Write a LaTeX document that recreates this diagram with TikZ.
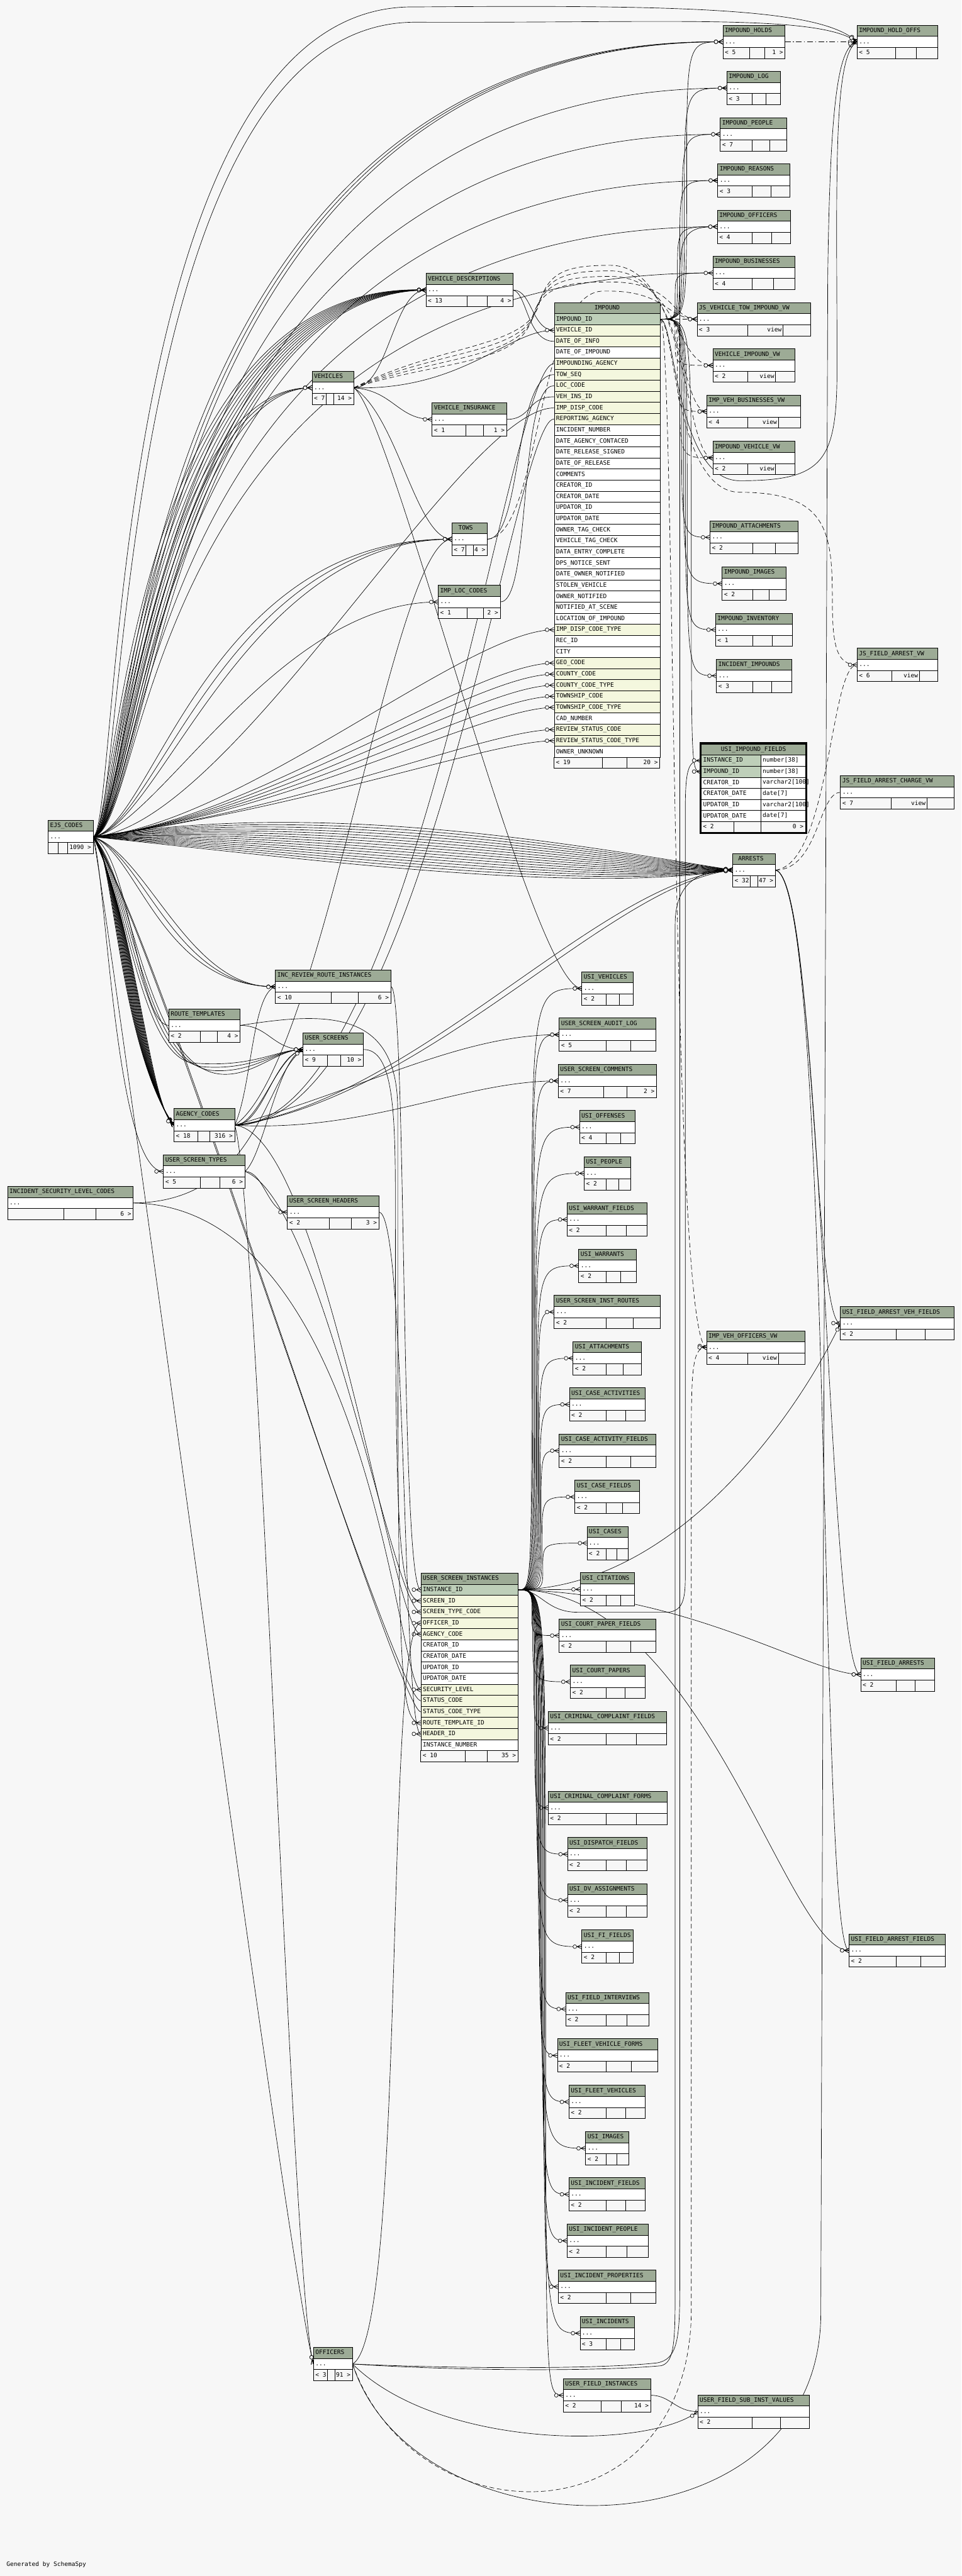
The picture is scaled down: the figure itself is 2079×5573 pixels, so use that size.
\documentclass[tikz,border=0pt]{standalone}
\usepackage{fontspec}
\usetikzlibrary{fit,calc,decorations.markings}
\newfontfamily\tbmono{DejaVu Sans Mono}
\newcommand\tbfnt{\fontsize{13}{15}\selectfont\tbmono}
\definecolor{bgc}{RGB}{247,247,247}
\definecolor{hdr}{RGB}{157,171,150}
\definecolor{cp}{RGB}{190,207,185}
\definecolor{cf}{RGB}{244,247,222}
\definecolor{cn}{RGB}{255,255,255}
\pgfdeclarelayer{back}
\pgfdeclarelayer{edges}
\pgfsetlayers{back,edges,main}
\tikzset{
 tt/.style={font=\tbfnt, inner sep=0pt, text=black, text height=9pt, text depth=2pt},
 tline/.style={draw=black, line width=1pt},
 crow/.style={postaction={decorate, decoration={markings, mark=at position 0.99999 with {\draw[solid, line width=0.9pt] (-10pt,0pt) -- (0pt,5pt) (-10pt,0pt) -- (0pt,0pt) (-10pt,0pt) -- (0pt,-5pt); \filldraw[solid, line width=0.9pt, fill=bgc] (-15pt,0pt) circle (4pt);}}}},
 fk/.style={draw=black, line width=0.9pt, crow},
 vfk/.style={fk, dash pattern=on 10pt off 6pt},
 dd/.style={fk, dash pattern=on 12pt off 5pt on 2pt off 5pt},
 rowc/.style={draw=black, line width=1pt, minimum height=24pt, inner ysep=0pt, inner xsep=4pt, text width=#1, align=left, anchor=north west, font=\tbfnt, text height=9pt, text depth=2pt},
 hcell/.style={draw=black, line width=1pt, fill=hdr, minimum height=24pt, inner sep=0pt, text height=9pt, text depth=2pt, anchor=north west, font=\tbfnt},
}
% table: name, x1, y1, x2, split1, split2, title, footer-left, footer-right
\newcommand\tb[9]{%
 \node[fit={(#2,#3) (#4,{#3+72})}, inner sep=0pt, name=#1] {};
 \filldraw[tline, fill=hdr] (#2,#3) rectangle (#4,{#3+24});
 \filldraw[tline, fill=white] (#2,{#3+24}) rectangle (#4,{#3+48});
 \filldraw[tline, fill=bgc] (#2,{#3+48}) rectangle (#4,{#3+72});
 \draw[tline] (#5,{#3+48}) -- (#5,{#3+72}) (#6,{#3+48}) -- (#6,{#3+72});
 \node[tt, anchor=west, name=#1-t] at ({#2+4},{#3+12}) {#7};
 \node[tt, anchor=west, name=#1-r] at ({#2+4},{#3+36}) {...};
 \node[tt, anchor=west, name=#1-fl] at ({#2+4},{#3+60}) {#8};
 \node[tt, anchor=east, name=#1-fr] at ({#4-4},{#3+60}) {#9};
}
\newcommand\vw[8]{\tb{#1}{#2}{#3}{#4}{#5}{#6}{#7}{#8}{}%
 \node[tt, anchor=east, name=#1-v] at ({#6-3},{#3+60}) {view};}
\begin{document}
\begin{tikzpicture}[x=1pt,y=-1pt]
\begin{pgfonlayer}{back}
\fill[bgc] (0,0) rectangle (2079,5573);
\end{pgfonlayer}
\useasboundingbox (0,0) rectangle (2079,5573);

% ---------- right column ----------
\tb{holds}{1563.5}{54.5}{1697.5}{1621}{1654}{IMPOUND\_HOLDS}{< 5}{1 >}
\tb{holdoffs}{1853.5}{54.5}{2027.5}{1937}{1981.5}{IMPOUND\_HOLD\_OFFS}{< 5}{}
\tb{implog}{1572}{154.5}{1687.5}{1627}{1656.6}{IMPOUND\_LOG}{< 3}{}
\tb{imppeople}{1557.5}{254.5}{1701.5}{1627}{1664.6}{IMPOUND\_PEOPLE}{< 7}{}
\tb{impreasons}{1552}{354.5}{1708.7}{1627}{1667.4}{IMPOUND\_REASONS}{< 3}{}
\tb{impofficers}{1551.5}{454.5}{1709.5}{1627}{1668.6}{IMPOUND\_OFFICERS}{< 4}{}
\tb{impbus}{1541.5}{554.5}{1719.5}{1627}{1672}{IMPOUND\_BUSINESSES}{< 4}{}
\vw{jsvti}{1507.4}{654.4}{1752.4}{1616.5}{1693.5}{JS\_VEHICLE\_TOW\_IMPOUND\_VW}{< 3}
\vw{vivw}{1541.5}{754.6}{1719.5}{1617}{1677.4}{VEHICLE\_IMPOUND\_VW}{< 2}
\vw{ivbvw}{1528.2}{854.3}{1731.6}{1616.5}{1683.5}{IMP\_VEH\_BUSINESSES\_VW}{< 4}
\vw{ivvw}{1541.5}{954.6}{1719.5}{1617}{1677.4}{IMPOUND\_VEHICLE\_VW}{< 2}
\tb{impatt}{1535.4}{1126.4}{1725.6}{1627.3}{1676.6}{IMPOUND\_ATTACHMENTS}{< 2}{}
\tb{impimg}{1561.5}{1226.7}{1699.5}{1627.3}{1663.4}{IMPOUND\_IMAGES}{< 2}{}
\tb{impinv}{1547.5}{1326.4}{1713.5}{1627.3}{1669.4}{IMPOUND\_INVENTORY}{< 1}{}
\tb{incimp}{1549.5}{1426}{1711.5}{1627.3}{1668.6}{INCIDENT\_IMPOUNDS}{< 3}{}
\vw{jsfavw}{1853.5}{1402.3}{2028.4}{1928.5}{1988.3}{JS\_FIELD\_ARREST\_VW}{< 6}
\vw{jsfacvw}{1817.4}{1678.3}{2063.7}{1927.3}{2004.7}{JS\_FIELD\_ARREST\_CHARGE\_VW}{< 7}
\tb{arrests}{1584.4}{1846.3}{1676.6}{1621.7}{1639.3}{\hspace{8pt}ARRESTS}{< 32}{47 >}
\vw{impvehoff}{1528}{2879}{1741}{1616.5}{1683.5}{IMP\_VEH\_OFFICERS\_VW}{< 4}
\tb{usifav}{1817.3}{2826.8}{2063.3}{1937.7}{2000.3}{USI\_FIELD\_ARREST\_VEH\_FIELDS}{< 2}{}
\tb{usifa}{1861.3}{3586.6}{2020.3}{1937.7}{1979.3}{USI\_FIELD\_ARRESTS}{< 2}{}
\tb{usifaf}{1836.3}{4183.7}{2044.7}{1937.7}{1991.3}{USI\_FIELD\_ARREST\_FIELDS}{< 2}{}

% ---------- middle ----------
\tb{vdesc}{921.3}{591.5}{1109.7}{1010.3}{1053.7}{VEHICLE\_DESCRIPTIONS}{< 13}{4 >}
\tb{vehicles}{675}{803}{765}{705}{722}{VEHICLES}{< 7}{14 >}
\tb{vins}{934.3}{871.3}{1095.7}{1006.7}{1045.7}{VEHICLE\_INSURANCE}{< 1}{1 >}
\tb{tows}{977.3}{1130.5}{1053.7}{1006.7}{1023.7}{\hspace{10pt}TOWS}{< 7}{4 >}
\tb{imploc}{947.7}{1266.3}{1081.7}{1010}{1045}{IMP\_LOC\_CODES}{< 1}{2 >}

% IMPOUND
\node[hcell, minimum width=229pt, name=imp-h] at (1198,654) {IMPOUND};
\foreach \nm/\k [count=\i] in {IMPOUND\_ID/p, VEHICLE\_ID/f, DATE\_OF\_INFO/f, DATE\_OF\_IMPOUND/n, IMPOUNDING\_AGENCY/f, TOW\_SEQ/f, LOC\_CODE/f, VEH\_INS\_ID/f, IMP\_DISP\_CODE/f, REPORTING\_AGENCY/f, INCIDENT\_NUMBER/n, DATE\_AGENCY\_CONTACED/n, DATE\_RELEASE\_SIGNED/n, DATE\_OF\_RELEASE/n, COMMENTS/n, CREATOR\_ID/n, CREATOR\_DATE/n, UPDATOR\_ID/n, UPDATOR\_DATE/n, OWNER\_TAG\_CHECK/n, VEHICLE\_TAG\_CHECK/n, DATA\_ENTRY\_COMPLETE/n, DPS\_NOTICE\_SENT/n, DATE\_OWNER\_NOTIFIED/n, STOLEN\_VEHICLE/n, OWNER\_NOTIFIED/n, NOTIFIED\_AT\_SCENE/n, LOCATION\_OF\_IMPOUND/n, IMP\_DISP\_CODE\_TYPE/f, REC\_ID/n, CITY/n, GEO\_CODE/f, COUNTY\_CODE/f, COUNTY\_CODE\_TYPE/f, TOWNSHIP\_CODE/f, TOWNSHIP\_CODE\_TYPE/f, CAD\_NUMBER/n, REVIEW\_STATUS\_CODE/f, REVIEW\_STATUS\_CODE\_TYPE/f, OWNER\_UNKNOWN/n}
  \node[rowc=221pt, fill=c\k, name=imp-\i] at (1198,{654+24*\i}) {\nm};
\filldraw[tline, fill=bgc] (1198,1638) rectangle (1427,1662);
\draw[tline] (1303,1638) -- (1303,1662) (1355,1638) -- (1355,1662);
\node[tt, anchor=west, name=imp-fl] at (1202,1650) {< 19};
\node[tt, anchor=east, name=imp-fr] at (1423,1650) {20 >};
\node[fit={(1198,654) (1427,1662)}, inner sep=0pt, name=impound] {};

% USI_IMPOUND_FIELDS
\node[hcell, minimum width=226pt, name=usiimp-h] at (1516,1609) {USI\_IMPOUND\_FIELDS};
\foreach \nm/\k/\tyy [count=\i] in {INSTANCE\_ID/p/{number[38]}, IMPOUND\_ID/p/{number[38]}, CREATOR\_ID/n/{varchar2[100]}, CREATOR\_DATE/n/{date[7]}, UPDATOR\_ID/n/{varchar2[100]}, UPDATOR\_DATE/n/{date[7]}}{
  \node[rowc=121pt, fill=c\k, name=usiimp-\i] at (1516,{1609+24*\i}) {\nm};
  \node[draw=black, line width=1pt, fill=white, minimum width=97pt, minimum height=24pt, inner sep=0pt, anchor=north west, name=usiimp-\i-c] at (1645,{1609+24*\i}) {};
  \node[tt, anchor=west, name=usiimp-\i-ty] at (1649,{1621+24*\i}) {\tyy};
}
\filldraw[tline, fill=bgc] (1516,1777) rectangle (1742,1801);
\draw[tline] (1587,1777) -- (1587,1801) (1645,1777) -- (1645,1801);
\node[tt, anchor=west, name=usiimp-fl] at (1520,1789) {< 2};
\node[tt, anchor=east, name=usiimp-fr] at (1738,1789) {0 >};
\draw[line width=3pt] (1514.5,1607.5) rectangle (1743.5,1802);
\node[fit={(1514,1607) (1744,1802)}, inner sep=0pt, name=usiimp] {};

% ---------- left ----------
\tb{ejs}{104}{1774.4}{201.3}{125.4}{145.5}{EJS\_CODES}{}{1090 >}
\tb{incrr}{595.6}{2098.5}{845.3}{715.6}{774.7}{INC\_REVIEW\_ROUTE\_INSTANCES}{< 10}{6 >}
\tb{routet}{364.9}{2182.4}{519.4}{432.6}{469.6}{ROUTE\_TEMPLATES}{< 2}{4 >}
\tb{uscreens}{655.3}{2234.5}{785.6}{707.6}{736.3}{USER\_SCREENS}{< 9}{10 >}
\tb{agency}{376.3}{2398.4}{507.4}{428.1}{453.6}{AGENCY\_CODES}{< 18}{316 >}
\tb{ustypes}{353.5}{2498.3}{529.6}{432.6}{475.4}{USER\_SCREEN\_TYPES}{< 5}{6 >}
\tb{islc}{16.5}{2566.6}{288}{137.5}{207.6}{INCIDENT\_SECURITY\_LEVEL\_CODES}{}{6 >}
\tb{usheaders}{621.5}{2586.5}{819.5}{711.6}{759.8}{USER\_SCREEN\_HEADERS}{< 2}{3 >}

% ---------- USI column ----------
\tb{usivehicles}{1258.3}{2102.4}{1369.7}{1310.3}{1339.3}{USI\_VEHICLES}{< 2}{}
\tb{usal}{1209.3}{2202.4}{1418.7}{1310.3}{1363.3}{USER\_SCREEN\_AUDIT\_LOG}{< 5}{}
\tb{uscom}{1207.3}{2302.4}{1419.7}{1305.3}{1355.7}{USER\_SCREEN\_COMMENTS}{< 7}{2 >}
\tb{usioff}{1253.3}{2402.4}{1373.7}{1310.3}{1341.7}{USI\_OFFENSES}{< 4}{}
\tb{usipeople}{1263.3}{2502.4}{1363.7}{1310.3}{1337.7}{USI\_PEOPLE}{< 2}{}
\tb{usiwf}{1226.3}{2602.4}{1399.7}{1310.3}{1354.7}{USI\_WARRANT\_FIELDS}{< 2}{}
\tb{usiwar}{1251.3}{2702.4}{1375.7}{1310.3}{1342.7}{USI\_WARRANTS}{< 2}{}
\tb{usir}{1198.3}{2802.4}{1427.7}{1310.3}{1369.7}{USER\_SCREEN\_INST\_ROUTES}{< 2}{}
\tb{usiatt}{1239.3}{2902.4}{1386.7}{1310.3}{1347.7}{USI\_ATTACHMENTS}{< 2}{}
\tb{usica}{1231.3}{3002.4}{1395.7}{1310.3}{1353.3}{USI\_CASE\_ACTIVITIES}{< 2}{}
\tb{usicaf}{1209.3}{3102.4}{1418.7}{1310.3}{1363.3}{USI\_CASE\_ACTIVITY\_FIELDS}{< 2}{}
\tb{usicf}{1243.3}{3202.4}{1382.7}{1310.3}{1346.7}{USI\_CASE\_FIELDS}{< 2}{}
\tb{usicases}{1269.3}{3302.4}{1358.7}{1310.3}{1334.3}{USI\_CASES}{< 2}{}
\tb{usicit}{1255.3}{3402.4}{1371.7}{1310.3}{1341.7}{USI\_CITATIONS}{< 2}{}
\tb{usicpf}{1209.3}{3502.4}{1418.7}{1310.3}{1363.3}{USI\_COURT\_PAPER\_FIELDS}{< 2}{}
\tb{usicp}{1233.3}{3602.4}{1394.7}{1310.3}{1351.7}{USI\_COURT\_PAPERS}{< 2}{}
\tb{usiccf}{1185.3}{3702.6}{1441.7}{1310.3}{1375.7}{USI\_CRIMINAL\_COMPLAINT\_FIELDS}{< 2}{}
\tb{usiccfo}{1185.3}{3874.9}{1442.7}{1310.3}{1375.7}{USI\_CRIMINAL\_COMPLAINT\_FORMS}{< 2}{}
\tb{usidf}{1227.3}{3975.4}{1399.3}{1310.3}{1354.7}{USI\_DISPATCH\_FIELDS}{< 2}{}
\tb{usidv}{1227.3}{4074.9}{1398.7}{1310.3}{1354.7}{USI\_DV\_ASSIGNMENTS}{< 2}{}
\tb{usifi}{1258.3}{4175.4}{1369.3}{1310.3}{1339.7}{USI\_FI\_FIELDS}{< 2}{}
\tb{usifint}{1223.3}{4310.3}{1402.7}{1310.3}{1355.7}{USI\_FIELD\_INTERVIEWS}{< 2}{}
\tb{usifvf}{1205.3}{4410.8}{1421.7}{1310.3}{1365.7}{USI\_FLEET\_VEHICLE\_FORMS}{< 2}{}
\tb{usifv}{1230.3}{4511.2}{1395.7}{1310.3}{1353.3}{USI\_FLEET\_VEHICLES}{< 2}{}
\tb{usiimg}{1266.3}{4611.7}{1359.7}{1310.3}{1334.3}{USI\_IMAGES}{< 2}{}
\tb{usiif}{1230.3}{4711.2}{1395.7}{1310.3}{1353.3}{USI\_INCIDENT\_FIELDS}{< 2}{}
\tb{usiip}{1226.3}{4811.7}{1401.7}{1310.3}{1355.7}{USI\_INCIDENT\_PEOPLE}{< 2}{}
\tb{usiiprop}{1207.3}{4911.2}{1418.3}{1310.3}{1363.3}{USI\_INCIDENT\_PROPERTIES}{< 2}{}
\tb{usiinc}{1254.3}{5011.7}{1371.7}{1310.3}{1341.7}{USI\_INCIDENTS}{< 3}{}
\tb{officers}{678}{5078.3}{762.2}{707.9}{724.7}{OFFICERS}{< 3}{91 >}
\tb{ufi}{1218.2}{5146}{1407.2}{1299.3}{1342.9}{USER\_FIELD\_INSTANCES}{< 2}{14 >}
\tb{ufsiv}{1509}{5181.3}{1750.7}{1626.8}{1688}{USER\_FIELD\_SUB\_INST\_VALUES}{< 2}{}

% USER_SCREEN_INSTANCES
\node[hcell, text width=202pt, align=left, inner xsep=4pt, name=usi-h] at (910,3403) {USER\_SCREEN\_INSTANCES};
\foreach \nm/\k [count=\i] in {INSTANCE\_ID/p, SCREEN\_ID/f, SCREEN\_TYPE\_CODE/f, OFFICER\_ID/f, AGENCY\_CODE/f, CREATOR\_ID/n, CREATOR\_DATE/n, UPDATOR\_ID/n, UPDATOR\_DATE/n, SECURITY\_LEVEL/f, STATUS\_CODE/f, STATUS\_CODE\_TYPE/f, ROUTE\_TEMPLATE\_ID/f, HEADER\_ID/f, INSTANCE\_NUMBER/n}
  \node[rowc=202pt, fill=c\k, name=usi-\i] at (910,{3403+24*\i}) {\nm};
\filldraw[tline, fill=bgc] (910,3787) rectangle (1120,3811);
\draw[tline] (1006,3787) -- (1006,3811) (1053,3787) -- (1053,3811);
\node[tt, anchor=west, name=usi-fl] at (914,3799) {< 10};
\node[tt, anchor=east, name=usi-fr] at (1116,3799) {35 >};
\node[fit={(910,3403) (1120,3811)}, inner sep=0pt, name=usinst] {};

\node[tt, anchor=west, name=gen] at (14,5548) {Generated by SchemaSpy};

% ================= connectors =================
\begin{pgfonlayer}{edges}
% EJS_CODES
\foreach \k in {-8,...,7}
  \draw[fk] (ejs.east) .. controls (700,{1800+9*\k}) and (1250,{1885+7*\k}) .. (arrests.west);
\foreach \k in {0,1,2}
  \draw[fk] (ejs.east) .. controls ({290+8*\k},1790) and ({250+12*\k},{75+6*\k}) .. (holds.west);
\draw[fk] (ejs.east) .. controls (305,1790) and (280,190) .. (implog.west);
\draw[fk] (ejs.east) .. controls (310,1790) and (285,290) .. (imppeople.west);
\draw[fk] (ejs.east) .. controls (315,1790) and (290,390) .. (impreasons.west);
\draw[fk] (ejs.east) .. controls (320,1790) and (295,490) .. (impofficers.west);
\draw[fk] (ejs.east) .. controls (325,1790) and (300,590) .. (impbus.west);
\draw[fk] (ejs.east) .. controls (260,1790) and (230,0) .. (900,15) .. controls (1500,10) and (1780,20) .. (holdoffs.west);
\draw[fk] (ejs.east) .. controls (275,1790) and (245,45) .. (900,48) .. controls (1450,50) and (1770,30) .. (holdoffs.west);
\foreach \k in {0,...,9}
  \draw[fk] (ejs.east) .. controls ({255+6*\k},1790) and ({270+12*\k},{600+4*\k}) .. (vdesc.west);
\foreach \k in {0,1,2}
  \draw[fk] (ejs.east) .. controls ({270+10*\k},1790) and ({330+20*\k},{830+5*\k}) .. (vehicles.west);
\foreach \k in {0,1,2}
  \draw[fk] (ejs.east) .. controls ({330+8*\k},1790) and ({450+40*\k},{1160+3*\k}) .. (tows.west);
\draw[fk] (ejs.east) .. controls (340,1790) and (600,1302) .. (imploc.west);
\foreach \r/\k in {9/0,29/1,32/2,33/3,34/4,35/5,36/6,38/7,39/8}
  \draw[fk] (ejs.east) .. controls ({500+20*\k},{1790-5*\k}) and ({1000+8*\k},{666+24*\r}) .. (imp-\r.west);
\foreach \k in {0,1,2}
  \draw[fk] (ejs.east) .. controls ({300+10*\k},1850) and ({350+30*\k},{2134+4*\k}) .. (incrr.west);
\draw[fk] (ejs.east) .. controls (280,1850) and (300,2218) .. (routet.west);
\foreach \k in {0,...,3}
  \draw[fk] (ejs.east) .. controls ({270+6*\k},1900) and ({300+5*\k},{2290+8*\k}) .. ({420+20*\k},{2300+8*\k}) .. controls (550,{2310+6*\k}) and (600,2270) .. (uscreens.west);
\foreach \k in {0,...,17}
  \draw[fk] (ejs.east) .. controls ({245+3*\k},{1830+10*\k}) and ({255+4*\k},{2260+8*\k}) .. (agency.west);
\draw[fk] (ejs.east) .. controls (230,1900) and (250,2534) .. (ustypes.west);
\draw[fk] (ejs.east) .. controls (330,2000) and (850,3679) .. (usi-11.west);
\draw[fk] (ejs.east) .. controls (340,2010) and (860,3703) .. (usi-12.west);
\draw[fk] (ejs.east) .. controls (240,2000) and (620,4900) .. (officers.west);

% AGENCY_CODES
\foreach \k in {0,1}
  \draw[fk] (agency.east) .. controls ({560+10*\k},2434) and ({600-10*\k},{2280+5*\k}) .. (uscreens.west);
\draw[fk] (agency.east) .. controls (900,2434) and (1100,786) .. (imp-5.west);
\draw[fk] (agency.east) .. controls (920,2434) and (1110,906) .. (imp-10.west);
\foreach \k in {0,1}
  \draw[fk] (agency.east) .. controls ({900+20*\k},2380) and ({1300+20*\k},{1900+10*\k}) .. (arrests.west);
\draw[fk] (agency.east) .. controls (700,2450) and (850,3535) .. (usi-5.west);
\draw[fk] (agency.east) .. controls (800,2350) and (1000,2238) .. (usal.west);
\draw[fk] (agency.east) .. controls (800,2450) and (1000,2338) .. (uscom.west);
\draw[fk] (agency.east) .. controls (545,2350) and (545,2150) .. (incrr.west);
\draw[fk] (agency.east) .. controls (700,2300) and (850,1166) .. (tows.west);
\draw[fk] (agency.east) .. controls (560,2600) and (630,4950) .. (officers.west);

% VEHICLES and neighbours
\draw[fk] (vehicles.east) .. controls (840,840) and (850,627) .. (vdesc.west);
\draw[fk] (vehicles.east) .. controls (850,845) and (860,907) .. (vins.west);
\draw[fk] (vehicles.east) .. controls (860,900) and (900,1166) .. (tows.west);
\draw[fk] (vehicles.east) .. controls (1000,845) and (1100,714) .. (imp-2.west);
\draw[fk] (vehicles.east) .. controls (850,900) and (1150,2138) .. (usivehicles.west);
\foreach \n/\tyy/\k in {jsvti/690.4/0, vivw/790.6/1, ivbvw/890.3/2, ivvw/990.6/3}
  \draw[vfk] (vehicles.east) .. controls (950,{780-12*\k}) and ({1120+5*\k},{790-12*\k}) .. ({1150+5*\k},{690-10*\k}) .. controls ({1170+5*\k},{620-10*\k}) and (1220,{610-12*\k}) .. (1320,{610-12*\k}) .. controls ({1460+10*\k},{610-12*\k}) and ({1450+10*\k},\tyy) .. (\n.west);
\draw[fk] (vdesc.east) .. controls (1150,627) and (1150,714) .. (imp-2.west);
\draw[fk] (vdesc.east) .. controls (1140,635) and (1140,738) .. (imp-3.west);
\draw[fk] (vins.east) .. controls (1150,907) and (1140,858) .. (imp-8.west);
\draw[fk] (tows.east) .. controls (1130,1166) and (1110,810) .. (imp-6.west);
\draw[fk] (imploc.east) .. controls (1150,1302) and (1120,834) .. (imp-7.west);
\draw[vfk] (tows.east) .. controls (1170,1160) and (1160,640) .. (1300,630) .. controls (1440,625) and (1440,690) .. (jsvti.west);

% IMPOUND children
\foreach \n/\tyy [count=\k] in {holds/90.5, implog/190.5, imppeople/290.5, impreasons/390.5, impofficers/490.5, impbus/590.5}{
  \pgfmathsetmacro\xx{1490-5*\k}
  \draw[fk] (imp-1.east) .. controls (\xx,690) and (\xx,690) .. (\xx,{(690+\tyy)/2}) .. controls (\xx,\tyy) and (\xx,\tyy) .. (\n.west);}
\draw[vfk] (imp-1.east) -- (jsvti.west);
\foreach \n/\tyy [count=\k] in {vivw/790.6, ivbvw/890.3, ivvw/990.6}{
  \pgfmathsetmacro\xx{1455+5*\k}
  \draw[vfk] (imp-1.east) .. controls (\xx,690) and (\xx,690) .. (\xx,{(690+\tyy)/2}) .. controls (\xx,\tyy) and (\xx,\tyy) .. (\n.west);}
\foreach \n/\tyy [count=\k] in {impatt/1162.4, impimg/1262.7, impinv/1362.4, incimp/1462}{
  \pgfmathsetmacro\xx{1470+4*\k}
  \draw[fk] (imp-1.east) .. controls (\xx,690) and (\xx,690) .. (\xx,{(690+\tyy)/2}) .. controls (\xx,\tyy) and (\xx,\tyy) .. (\n.west);}
\draw[fk] (imp-1.east) .. controls (1495,690) and (1495,690) .. (1495,1180) .. controls (1495,1669) and (1495,1669) .. (usiimp-2.west);
\draw[fk] (imp-1.east) .. controls (1460,690) and (1460,1040) .. (1600,1040) .. controls (1780,1040) and (1810,1000) .. (1810,800) .. controls (1810,400) and (1800,120) .. (holdoffs.west);
\draw[vfk] (imp-1.east) .. controls (1460,700) and (1460,1065) .. (1600,1065) .. controls (1790,1065) and (1800,1150) .. (1800,1300) .. controls (1800,1400) and (1810,1438) .. (jsfavw.west);
\draw[vfk] (imp-1.east) .. controls (1460,700) and (1450,2900) .. (impvehoff.west);
\draw[dd] (holds.east) -- (holdoffs.west);

% ARRESTS children
\draw[vfk] (arrests.east) .. controls (1770,1882) and (1770,1714) .. (jsfacvw.west);
\draw[vfk] (arrests.east) .. controls (1795,1870) and (1795,1438) .. (jsfavw.west);
\draw[fk] (arrests.east) .. controls (1760,1900) and (1760,2862) .. (usifav.west);
\draw[fk] (arrests.east) .. controls (1780,1900) and (1790,3622) .. (usifa.west);
\draw[fk] (arrests.east) .. controls (1800,1900) and (1770,4219) .. (usifaf.west);

% USER_SCREEN_INSTANCES children
\foreach \n/\tyy [count=\k] in {usivehicles/2138.4, usal/2238.4, uscom/2338.4, usioff/2438.4, usipeople/2538.4, usiwf/2638.4, usiwar/2738.4, usir/2838.4, usiatt/2938.4, usica/3038.4, usicaf/3138.4, usicf/3238.4, usicases/3338.4}{
  \pgfmathsetmacro\xx{1148+2*\k}
  \draw[fk] (usi-1.east) .. controls (\xx,3439) and (\xx,3439) .. (\xx,{(3439+\tyy)/2}) .. controls (\xx,\tyy) and (\xx,\tyy) .. (\n.west);}
\draw[fk] (usi-1.east) -- (usicit.west);
\foreach \n/\tyy [count=\k] in {usicpf/3538.4, usicp/3638.4, usiccf/3738.6, usiccfo/3910.9, usidf/4011.4, usidv/4110.9, usifi/4211.4, usifint/4346.3, usifvf/4446.8, usifv/4547.2, usiimg/4647.7, usiif/4747.2, usiip/4847.7, usiiprop/4947.2, usiinc/5047.7, ufi/5182}{
  \pgfmathsetmacro\xx{1148+2*\k}
  \draw[fk] (usi-1.east) .. controls (\xx,3439) and (\xx,3439) .. (\xx,{(3439+\tyy)/2}) .. controls (\xx,\tyy) and (\xx,\tyy) .. (\n.west);}
\draw[fk] (usi-1.east) .. controls (1170,3439) and (1180,3488) .. (1250,3488) -- (1440,3488) .. controls (1482,3488) and (1482,3450) .. (1482,3400) -- (1482,1750) .. controls (1482,1660) and (1490,1645) .. (usiimp-1.west);
\draw[fk] (usi-1.east) .. controls (1500,3430) and (1760,2990) .. (usifav.west);
\draw[fk] (usi-1.east) .. controls (1500,3450) and (1750,3622) .. (usifa.west);
\draw[fk] (usi-1.east) .. controls (1520,3440) and (1700,4219) .. (usifaf.west);

% OFFICERS
\draw[fk] (officers.east) .. controls (880,5050) and (830,3511) .. (usi-4.west);
\draw[fk] (officers.east) .. controls (1000,5125) and (1300,5125) .. (1420,5112) .. controls (1465,5105) and (1470,5060) .. (1470,4950) -- (1470,600) .. controls (1470,500) and (1490,490.5) .. (impofficers.west);
\draw[fk] (officers.east) .. controls (1000,5130) and (1300,5130) .. (1430,5118) .. controls (1458,5110) and (1460,5070) .. (1460,4950) -- (1460,2000) .. controls (1460,1910) and (1510,1882) .. (arrests.west);
\draw[fk] (officers.east) .. controls (900,5540) and (1780,5540) .. (1775,5000) -- (1790,600) .. controls (1795,200) and (1815,100) .. (holdoffs.west);
\draw[vfk] (officers.east) .. controls (900,5500) and (1490,5500) .. (1495,5000) -- (1495,3100) .. controls (1495,2950) and (1500,2915) .. (impvehoff.west);
\draw[fk] (officers.east) .. controls (950,5300) and (1400,5300) .. (ufsiv.west);
\draw[fk] (ufi.east) .. controls (1450,5182) and (1460,5217) .. (ufsiv.west);

% screens, templates, headers, security levels
\draw[fk] (routet.east) .. controls (580,2218) and (590,2270) .. (uscreens.west);
\draw[fk] (routet.east) .. controls (700,2190) and (860,2180) .. (860,2400) .. controls (860,3600) and (860,3727) .. (usi-13.west);
\draw[fk] (uscreens.east) .. controls (850,2270) and (855,2400) .. (855,2600) .. controls (855,3300) and (860,3463) .. (usi-2.west);
\draw[fk] (ustypes.east) .. controls (570,2534) and (580,2622) .. (usheaders.west);
\draw[fk] (ustypes.east) .. controls (700,2600) and (850,3487) .. (usi-3.west);
\draw[fk] (ustypes.east) .. controls (570,2500) and (600,2290) .. (uscreens.west);
\draw[fk] (usheaders.east) .. controls (880,2622) and (870,3751) .. (usi-14.west);
\draw[fk] (islc.east) .. controls (800,2610) and (860,3655) .. (usi-10.west);
\draw[fk] (islc.east) .. controls (560,2600) and (570,2330) .. (uscreens.west);
\draw[fk] (incrr.east) .. controls (880,2134) and (865,3439) .. (usi-1.west);
\end{pgfonlayer}
\end{tikzpicture}
\end{document}
